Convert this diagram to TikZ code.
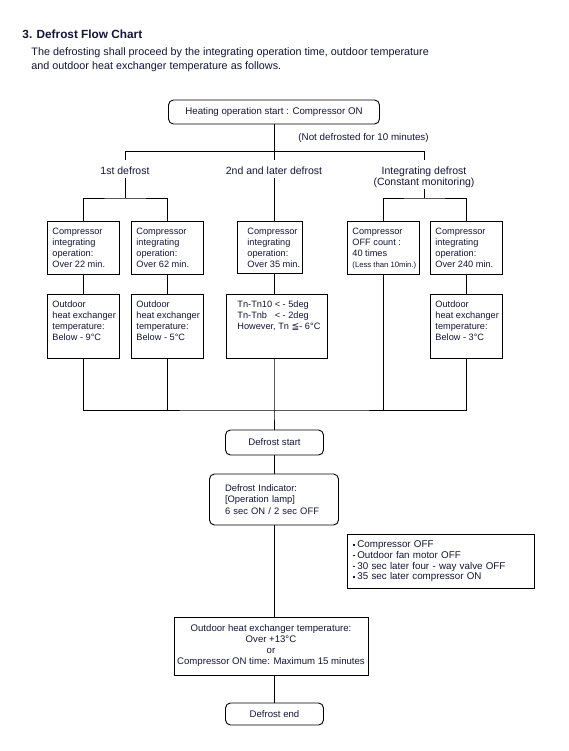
\documentclass[tikz,border=0pt]{standalone}
\usepackage{fontspec}
\setmainfont{Liberation Sans}
\newfontfamily\djv{DejaVu Sans}
\definecolor{ink}{RGB}{20,20,55}
\newcommand\fsz[2]{\fontsize{#1}{#2}\selectfont}
% box text: width, height, text, top skip, left skip
\newcommand\bxt[5]{\parbox[c][#2pt][t]{#1pt}{\vskip#4pt\relax\leftskip=#5pt\rightskip=0pt plus 1fil\parfillskip=0pt plus 1fil\noindent#3\par}}
\newcommand\sqb{\rule[2.2pt]{1.5pt}{1.5pt}\hspace{2.4pt}}
\begin{document}
\begin{tikzpicture}[x=1pt,y=-1pt,line width=0.9pt,
  every node/.append style={text=ink},
  box/.style={draw, rectangle, inner sep=0pt, anchor=north west, font=\fsz{9.2}{11}},
  rbox/.style={draw, rectangle, rounded corners=5pt, inner sep=0pt},
  lbl/.style={inner sep=0pt, font=\fsz{10.5}{11.7}},
  blbl/.style={lbl, anchor=base, text height=14pt, text depth=3.6pt}]
\useasboundingbox (0,0) rectangle (569,751);

% heading
\node[anchor=base west, inner sep=0pt, font=\bfseries\fsz{11.8}{14}] (title) at (22,39) {3. Defrost Flow Chart};
\node[anchor=base west, inner sep=0pt, align=left, font=\fsz{10.8}{14}] (intro) at (31,70)
  {The defrosting shall proceed by the integrating operation time, outdoor temperature\\and outdoor heat exchanger temperature as follows.};

% start
\node[rbox, minimum width=211pt, minimum height=24pt, font=\fsz{9.7}{11}] (start) at (274,112) {Heating operation start : Compressor ON};
\node[anchor=west, inner sep=0pt, font=\fsz{9.8}{11}] (note) at (298,138) {(Not defrosted for 10 minutes)};

% junction coordinates
\coordinate (h1L) at (125,151);
\coordinate (h1R) at (424,151);
\coordinate (d1) at (125,160);
\coordinate (d2) at (274,160);
\coordinate (d3) at (424,160);
\coordinate (s1M) at (125,198);
\coordinate (s3M) at (424,198);
\coordinate (jM) at (274,410);

% branch labels
\node[blbl] (l1) at (125,174.3) {1st defrost};
\node[blbl] (l2) at (274,174.3) {2nd and later defrost};
\node[lbl, align=center] (l3) at (424,177.4) {Integrating defrost\\(Constant monitoring)};

% first row boxes
\node[box] (b1) at (47,221) {\bxt{72}{53}{Compressor\\integrating\\operation:\\Over 22 min.}{6.3}{5}};
\node[box] (b2) at (131,221) {\bxt{72}{53}{Compressor\\integrating\\operation:\\Over 62 min.}{6.3}{5}};
\node[box] (b3) at (237,221) {\bxt{65}{52}{Compressor\\integrating\\operation:\\Over 35 min.}{6.3}{10}};
\node[box] (b5) at (347,221) {\bxt{72}{53}{Compressor\\OFF count :\\40 times\\{\fsz{7.7}{11}(Less than 10min.)}}{6.3}{5}};
\node[box] (b6) at (430,221) {\bxt{72}{53}{Compressor\\integrating\\operation:\\Over 240 min.}{6.3}{5}};

% second row boxes
\node[box] (c1) at (47,294) {\bxt{72}{64}{Outdoor\\heat exchanger\\temperature:\\Below - 9°C}{6}{5}};
\node[box] (c2) at (131,294) {\bxt{72}{64}{Outdoor\\heat exchanger\\temperature:\\Below - 5°C}{6}{5}};
\node[box] (c4) at (226,294) {\bxt{101}{64}{\rlap{Tn-Tn10}\phantom{Tn-Tn10} < - 5deg\\\rlap{Tn-Tnb}\phantom{Tn-Tn10} < - 2deg\\However, Tn {\djv ≦}- 6°C}{6}{11}};
\node[box] (c7) at (430,294) {\bxt{72}{64}{Outdoor\\heat exchanger\\temperature:\\Below - 3°C}{6}{5}};

% lower chain
\node[rbox, minimum width=98pt, minimum height=25pt, font=\fsz{9.6}{11}] (dstart) at (274.5,442.5) {Defrost start};
\node[rbox, minimum width=129pt, minimum height=51pt, text width=98pt, align=left, font=\fsz{9.4}{11.5}] (dind) at (274,499.5) {Defrost Indicator:\\{}[Operation lamp]\\6 sec ON / 2 sec OFF};
\node[draw, anchor=north west, inner xsep=6pt, inner ysep=0pt, text width=175pt, minimum height=54pt, align=left, font=\fsz{9.8}{10.7}] (bul) at (347,534)
  {\sqb Compressor OFF\\\sqb Outdoor fan motor OFF\\\sqb 30 sec later four - way valve OFF\\\sqb 35 sec later compressor ON};
\node[draw, inner sep=0pt, minimum width=194pt, minimum height=58pt, align=center, font=\fsz{9.6}{11}] (cond) at (271,646)
  {Outdoor heat exchanger temperature:\\Over +13°C\\or\\Compressor ON time: Maximum 15 minutes};
\node[rbox, minimum width=98pt, minimum height=22pt, font=\fsz{9.6}{11}] (dend) at (274.5,714) {Defrost end};

% connectors
\draw (start.south) -- (d2);
\draw (d1) -- (h1L) -- (h1R) -- (d3);
\draw (l1.south) -- (s1M);
\draw (b1.north) |- (s1M) -| (b2.north);
\draw (l2.south) -- (l2.south |- b3.north);
\draw (l3.south) -- (s3M);
\draw (b5.north) |- (s3M) -| (b6.north);
\draw (b1) -- (c1);
\draw (b2) -- (c2);
\draw (b3.south -| jM) -- (c4.north -| jM);
\draw (b6) -- (c7);
\draw (c1.south) |- (jM) -| (c7.south);
\draw (c2.south) -- (c2.south |- jM);
\draw (b5.south) -- (b5.south |- jM);
\draw (c4.south -| jM) -- (jM) -- (jM |- dstart.north);
\draw (dstart.south) -- (dstart.south |- dind.north);
\draw (dind.south) -- (dind.south |- cond.north);
\draw (dend.north |- cond.south) -- (dend.north);
\end{tikzpicture}
\end{document}
